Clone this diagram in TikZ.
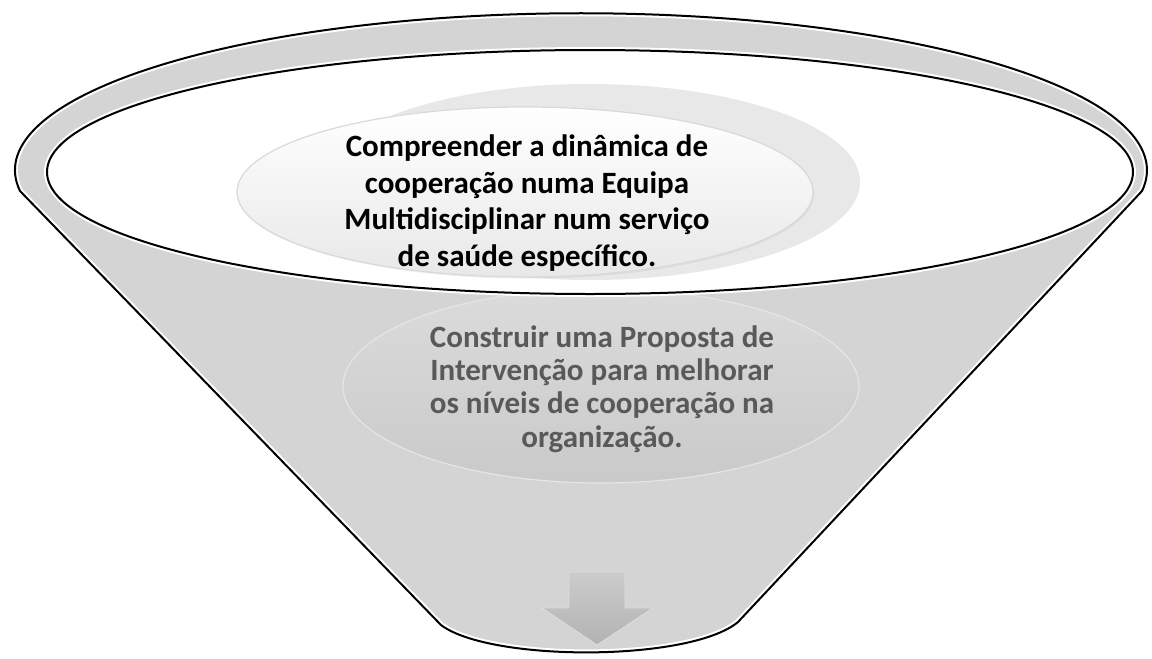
\documentclass[tikz,border=0pt]{standalone}
\usepackage{fontspec}
\setmainfont{Carlito}
\usetikzlibrary{shapes.geometric, shadows}
\definecolor{funnelgray}{RGB}{212,212,212}
\definecolor{backgray}{RGB}{232,232,232}
\definecolor{textgray}{RGB}{89,89,89}
\tikzset{x = 0.5pt, y = -0.5pt,
         every node/.style = {align = center, inner sep = 0pt},
         rim/.style = {line width = 1pt, draw = black},
         halo/.style = {line width = 3pt, draw = white},
         goal/.style = {ellipse, draw = gray!30, line width = 0.6pt,
                        minimum width = 288pt, minimum height = 85pt,
                        top color = white, bottom color = gray!18,
                        drop shadow = {opacity = 0.1, shadow xshift = 0.6pt,
                                       shadow yshift = -0.8pt}},
         goaltext/.style = {font = \bfseries\fontsize{15.5}{18.4}\selectfont},
         plan/.style = {ellipse, draw = gray!20, line width = 0.6pt,
                        minimum width = 258pt, minimum height = 97pt,
                        top color = gray!28, bottom color = gray!42},
         plantext/.style = {font = \bfseries\fontsize{15.5}{16.7}\selectfont,
                            text = textgray}}

\begin{document}
\begin{tikzpicture}
        \useasboundingbox (0,0) rectangle (1152,659);

        \fill[funnelgray] (20,191) arc[start angle = 172.4, end angle = 367.6, x radius = 566, y radius = 157]
              -- (738,622) .. controls (690,662) and (490,662) .. (441,625) -- cycle;
        \draw[halo] (20,191) arc[start angle = 172.4, end angle = 367.6, x radius = 566, y radius = 157]
              -- (738,622) .. controls (690,662) and (490,662) .. (441,625) -- cycle;
        \draw[rim] (20,191) arc[start angle = 172.4, end angle = 367.6, x radius = 566, y radius = 157]
              -- (738,622) .. controls (690,662) and (490,662) .. (441,625) -- cycle;

        \node[plan] (propose) at (601,386) {};

        \draw[halo, fill = white] (590,172) ellipse[x radius = 543, y radius = 122];
        \draw[rim] (590,172) ellipse[x radius = 543, y radius = 122];
        \fill[backgray] (590,182) ellipse[x radius = 270, y radius = 98];

        \node[goal] (understand) at (525,192) {};
        \node[goaltext] (understandtext) at (527,203) {Compreender a dinâmica de\\ cooperação numa Equipa\\ Multidisciplinar num serviço\\ de saúde específico.};
        \node[plantext] (proposetext) at (602,389) {Construir uma Proposta de\\ Intervenção para melhorar\\ os níveis de cooperação na\\ organização.};

        \path[draw = gray!25, top color = gray!40, bottom color = gray!60]
              (569,572) -- (625,572) -- (625,608) -- (653,608) -- (597,645) -- (542,608) -- (569,608) -- cycle;
      \end{tikzpicture}
\end{document}
